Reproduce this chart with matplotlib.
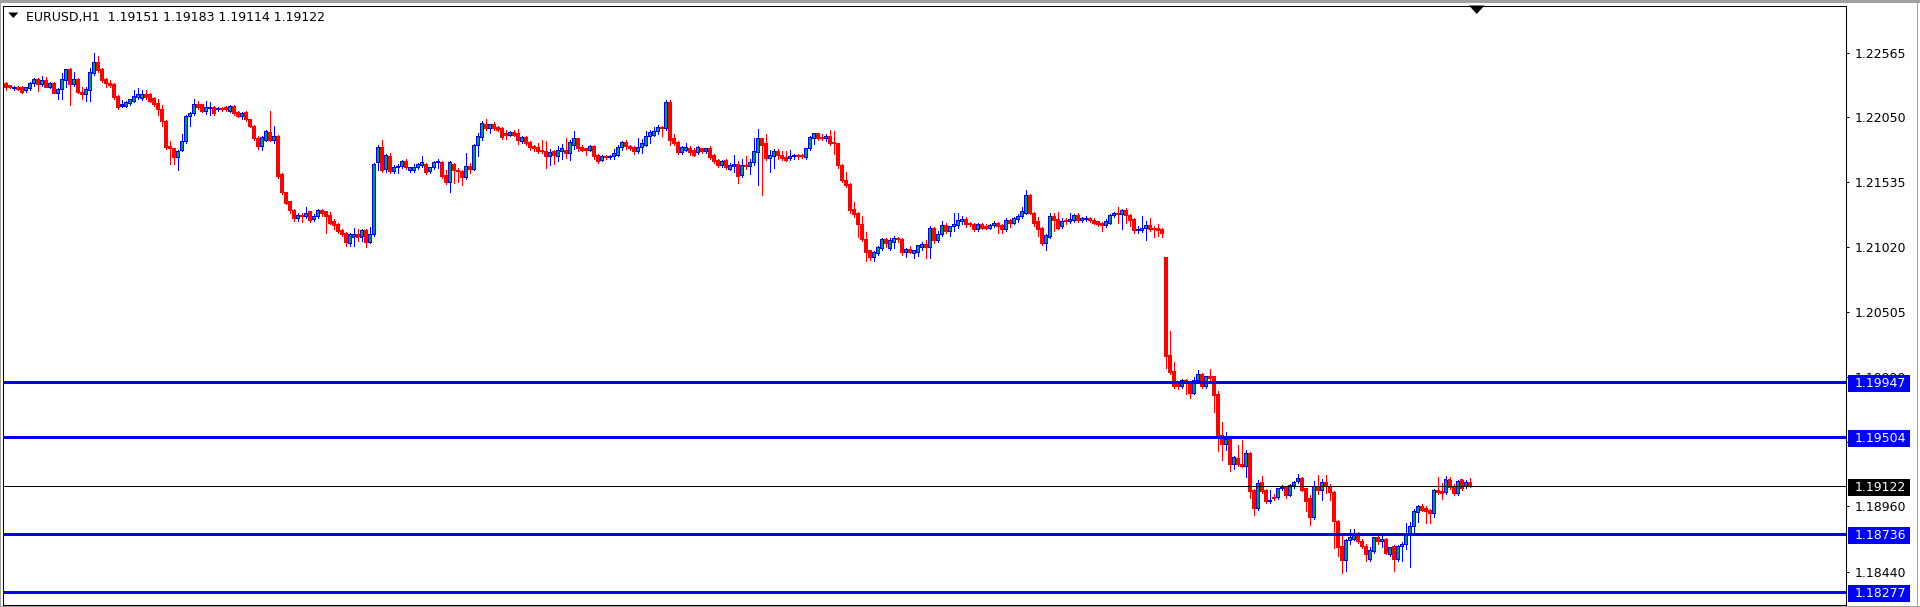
import numpy as np
import matplotlib
matplotlib.use("Agg")
import matplotlib.pyplot as plt
from matplotlib.patches import Rectangle, Polygon
import matplotlib.transforms as mtransforms

# EURUSD H1 candles, oldest first
opens = [
    1.2232, 1.2230, 1.2228, 1.2229, 1.2229, 1.2226, 1.2228, 1.2232, 1.2235, 1.2231,
    1.2234, 1.2229, 1.2232, 1.2224, 1.2227, 1.2234, 1.2243, 1.2231, 1.2235, 1.2225,
    1.2223, 1.2226, 1.2240, 1.2249, 1.2243, 1.2235, 1.2232, 1.2231, 1.2222, 1.2214,
    1.2214, 1.2216, 1.2218, 1.2221, 1.2220, 1.2223, 1.2223, 1.2220, 1.2216, 1.2211,
    1.2202, 1.2182, 1.2180, 1.2173, 1.2179, 1.2186, 1.2206, 1.2208, 1.2215, 1.2215,
    1.2210, 1.2212, 1.2213, 1.2211, 1.2212, 1.2213, 1.2210, 1.2214, 1.2209, 1.2206,
    1.2209, 1.2203, 1.2198, 1.2188, 1.2182, 1.2187, 1.2193, 1.2187, 1.2190, 1.2160,
    1.2145, 1.2138, 1.2131, 1.2125, 1.2127, 1.2126, 1.2130, 1.2124, 1.2126, 1.2131,
    1.2130, 1.2127, 1.2122, 1.2120, 1.2115, 1.2113, 1.2105, 1.2110, 1.2112, 1.2110,
    1.2115, 1.2106, 1.2112, 1.2169, 1.2181, 1.2164, 1.2174, 1.2162, 1.2165, 1.2166,
    1.2170, 1.2163, 1.2163, 1.2165, 1.2167, 1.2168, 1.2162, 1.2165, 1.2169, 1.2169,
    1.2159, 1.2153, 1.2168, 1.2163, 1.2162, 1.2157, 1.2166, 1.2164, 1.2183, 1.2189,
    1.2199, 1.2196, 1.2199, 1.2197, 1.2196, 1.2192, 1.2191, 1.2193, 1.2192, 1.2186,
    1.2189, 1.2185, 1.2182, 1.2181, 1.2179, 1.2178, 1.2174, 1.2178, 1.2174, 1.2178,
    1.2179, 1.2176, 1.2183, 1.2188, 1.2181, 1.2180, 1.2179, 1.2182, 1.2175, 1.2171,
    1.2174, 1.2173, 1.2174, 1.2175, 1.2181, 1.2185, 1.2182, 1.2181, 1.2178, 1.2181,
    1.2183, 1.2190, 1.2191, 1.2194, 1.2197, 1.2196, 1.2217, 1.2188, 1.2185, 1.2177,
    1.2179, 1.2180, 1.2179, 1.2177, 1.2180, 1.2178, 1.2180, 1.2175, 1.2171, 1.2167,
    1.2171, 1.2164, 1.2166, 1.2168, 1.2159, 1.2167, 1.2166, 1.2169, 1.2177, 1.2188,
    1.2184, 1.2172, 1.2174, 1.2178, 1.2175, 1.2173, 1.2172, 1.2174, 1.2175, 1.2175,
    1.2173, 1.2180, 1.2188, 1.2192, 1.2189, 1.2188, 1.2190, 1.2185, 1.2184, 1.2167,
    1.2155, 1.2152, 1.2132, 1.2129, 1.2120, 1.2108, 1.2099, 1.2094, 1.2097, 1.2101,
    1.2108, 1.2101, 1.2106, 1.2109, 1.2108, 1.2098, 1.2100, 1.2097, 1.2098, 1.2102,
    1.2104, 1.2102, 1.2117, 1.2107, 1.2112, 1.2119, 1.2114, 1.2118, 1.2119, 1.2122,
    1.2124, 1.2121, 1.2120, 1.2116, 1.2120, 1.2118, 1.2117, 1.2119, 1.2121, 1.2119,
    1.2116, 1.2123, 1.2121, 1.2124, 1.2126, 1.2129, 1.2143, 1.2129, 1.2122, 1.2117,
    1.2105, 1.2110, 1.2126, 1.2124, 1.2118, 1.2123, 1.2122, 1.2123, 1.2127, 1.2123,
    1.2124, 1.2125, 1.2123, 1.2122, 1.2121, 1.2119, 1.2121, 1.2127, 1.2129, 1.2128,
    1.2131, 1.2127, 1.2124, 1.2115, 1.2115, 1.2117, 1.2119, 1.2117, 1.2117, 1.2116,
    1.2094, 1.2016, 1.2003, 1.1993, 1.1991, 1.1996, 1.1994, 1.1986, 1.1996, 1.2001,
    1.1991, 1.1999, 1.1999, 1.1985, 1.1952, 1.1945, 1.1949, 1.1929, 1.1934, 1.1929,
    1.1928, 1.1938, 1.1909, 1.1894, 1.1915, 1.1909, 1.1900, 1.1903, 1.1903, 1.1910,
    1.1911, 1.1905, 1.1913, 1.1916, 1.1918, 1.1910, 1.1902, 1.1887, 1.1912, 1.1909,
    1.1915, 1.1912, 1.1907, 1.1884, 1.1864, 1.1853, 1.1869, 1.1870, 1.1874, 1.1868,
    1.1864, 1.1854, 1.1860, 1.1871, 1.1868, 1.1870, 1.1858, 1.1864, 1.1854, 1.1864,
    1.1866, 1.1874, 1.1880, 1.1891, 1.1896, 1.1894, 1.1893, 1.1890, 1.1909, 1.1908,
    1.1907, 1.1917, 1.1912, 1.1906, 1.1917, 1.1912, 1.19151,
]
highs = [
    1.2233, 1.2231, 1.2230, 1.2230, 1.2230, 1.2229, 1.2233, 1.2236, 1.2236, 1.2238,
    1.2237, 1.2233, 1.2233, 1.2228, 1.2240, 1.2243, 1.2244, 1.2241, 1.2236, 1.2229,
    1.2229, 1.2244, 1.2256, 1.2254, 1.2244, 1.2236, 1.2235, 1.2232, 1.2223, 1.2219,
    1.2218, 1.2220, 1.2227, 1.2228, 1.2227, 1.2227, 1.2224, 1.2221, 1.2220, 1.2215,
    1.2203, 1.2186, 1.2181, 1.2179, 1.2192, 1.2207, 1.2209, 1.2220, 1.2218, 1.2216,
    1.2218, 1.2217, 1.2214, 1.2213, 1.2213, 1.2214, 1.2215, 1.2215, 1.2210, 1.2209,
    1.2210, 1.2204, 1.2199, 1.2190, 1.2190, 1.2195, 1.2210, 1.2198, 1.2191, 1.2161,
    1.2146, 1.2139, 1.2132, 1.2129, 1.2129, 1.2134, 1.2131, 1.2128, 1.2132, 1.2132,
    1.2131, 1.2130, 1.2124, 1.2121, 1.2116, 1.2114, 1.2113, 1.2117, 1.2116, 1.2116,
    1.2116, 1.2118, 1.2169, 1.2183, 1.2187, 1.2176, 1.2177, 1.2167, 1.2168, 1.2171,
    1.2172, 1.2166, 1.2168, 1.2169, 1.2174, 1.2169, 1.2166, 1.2170, 1.2172, 1.2170,
    1.2163, 1.2170, 1.2169, 1.2165, 1.2163, 1.2177, 1.2169, 1.2184, 1.2193, 1.2202,
    1.2204, 1.2200, 1.2201, 1.2198, 1.2197, 1.2195, 1.2194, 1.2195, 1.2196, 1.2190,
    1.2190, 1.2186, 1.2183, 1.2185, 1.2187, 1.2186, 1.2180, 1.2179, 1.2182, 1.2184,
    1.2189, 1.2187, 1.2194, 1.2189, 1.2183, 1.2181, 1.2183, 1.2183, 1.2176, 1.2175,
    1.2175, 1.2175, 1.2180, 1.2183, 1.2186, 1.2187, 1.2183, 1.2182, 1.2189, 1.2188,
    1.2194, 1.2195, 1.2197, 1.2199, 1.2198, 1.2219, 1.2219, 1.2192, 1.2186, 1.2182,
    1.2185, 1.2182, 1.2181, 1.2182, 1.2181, 1.2180, 1.2182, 1.2176, 1.2172, 1.2171,
    1.2172, 1.2169, 1.2175, 1.2170, 1.2172, 1.2174, 1.2172, 1.2189, 1.2196, 1.2189,
    1.2192, 1.2179, 1.2180, 1.2180, 1.2178, 1.2178, 1.2179, 1.2176, 1.2176, 1.2176,
    1.2181, 1.2190, 1.2193, 1.2193, 1.2192, 1.2192, 1.2195, 1.2194, 1.2185, 1.2168,
    1.2162, 1.2153, 1.2138, 1.2130, 1.2127, 1.2114, 1.2100, 1.2099, 1.2103, 1.2109,
    1.2109, 1.2109, 1.2111, 1.2110, 1.2109, 1.2101, 1.2103, 1.2100, 1.2104, 1.2106,
    1.2108, 1.2119, 1.2118, 1.2115, 1.2123, 1.2121, 1.2119, 1.2129, 1.2129, 1.2127,
    1.2126, 1.2122, 1.2121, 1.2121, 1.2121, 1.2120, 1.2120, 1.2123, 1.2122, 1.2120,
    1.2125, 1.2124, 1.2126, 1.2128, 1.2134, 1.2147, 1.2144, 1.2130, 1.2126, 1.2118,
    1.2112, 1.2129, 1.2129, 1.2130, 1.2125, 1.2125, 1.2129, 1.2128, 1.2129, 1.2126,
    1.2127, 1.2126, 1.2125, 1.2123, 1.2122, 1.2124, 1.2128, 1.2130, 1.2134, 1.2132,
    1.2133, 1.2128, 1.2125, 1.2119, 1.2127, 1.2123, 1.2125, 1.2119, 1.2120, 1.2117,
    1.2094, 1.2035, 1.2011, 1.1995, 1.1997, 1.1997, 1.1995, 1.1999, 1.2004, 1.2002,
    1.2000, 1.2005, 1.2000, 1.1988, 1.1963, 1.1955, 1.1950, 1.1936, 1.1945, 1.1949,
    1.1941, 1.1939, 1.1910, 1.1917, 1.1920, 1.1910, 1.1909, 1.1906, 1.1911, 1.1913,
    1.1912, 1.1914, 1.1916, 1.1922, 1.1919, 1.1911, 1.1905, 1.1916, 1.1921, 1.1918,
    1.1921, 1.1914, 1.1908, 1.1885, 1.1874, 1.1870, 1.1878, 1.1878, 1.1876, 1.1870,
    1.1866, 1.1864, 1.1872, 1.1874, 1.1874, 1.1871, 1.1864, 1.1865, 1.1865, 1.1868,
    1.1883, 1.1884, 1.1894, 1.1897, 1.1898, 1.1896, 1.1894, 1.1910, 1.1919, 1.1915,
    1.1920, 1.1919, 1.1914, 1.1917, 1.1918, 1.1917, 1.19183,
]
lows = [
    1.2227, 1.2228, 1.2227, 1.2227, 1.2224, 1.2225, 1.2227, 1.2230, 1.2226, 1.2230,
    1.2229, 1.2228, 1.2224, 1.2220, 1.2220, 1.2229, 1.2215, 1.2230, 1.2224, 1.2220,
    1.2218, 1.2218, 1.2239, 1.2241, 1.2233, 1.2229, 1.2229, 1.2220, 1.2212, 1.2213,
    1.2213, 1.2215, 1.2217, 1.2220, 1.2219, 1.2220, 1.2217, 1.2214, 1.2207, 1.2198,
    1.2180, 1.2168, 1.2168, 1.2163, 1.2178, 1.2185, 1.2198, 1.2207, 1.2212, 1.2209,
    1.2208, 1.2207, 1.2207, 1.2210, 1.2210, 1.2210, 1.2209, 1.2207, 1.2205, 1.2204,
    1.2202, 1.2197, 1.2187, 1.2180, 1.2179, 1.2186, 1.2186, 1.2185, 1.2157, 1.2144,
    1.2136, 1.2129, 1.2123, 1.2123, 1.2122, 1.2125, 1.2122, 1.2123, 1.2125, 1.2127,
    1.2113, 1.2120, 1.2116, 1.2113, 1.2111, 1.2103, 1.2103, 1.2103, 1.2107, 1.2107,
    1.2102, 1.2105, 1.2111, 1.2163, 1.2162, 1.2162, 1.2161, 1.2161, 1.2161, 1.2165,
    1.2164, 1.2162, 1.2162, 1.2164, 1.2166, 1.2160, 1.2161, 1.2164, 1.2165, 1.2157,
    1.2152, 1.2146, 1.2153, 1.2154, 1.2151, 1.2156, 1.2161, 1.2163, 1.2174, 1.2187,
    1.2195, 1.2193, 1.2195, 1.2194, 1.2188, 1.2188, 1.2190, 1.2190, 1.2184, 1.2185,
    1.2183, 1.2179, 1.2178, 1.2177, 1.2177, 1.2165, 1.2167, 1.2168, 1.2170, 1.2172,
    1.2173, 1.2171, 1.2180, 1.2178, 1.2178, 1.2175, 1.2178, 1.2172, 1.2169, 1.2170,
    1.2172, 1.2172, 1.2172, 1.2174, 1.2179, 1.2180, 1.2179, 1.2176, 1.2177, 1.2177,
    1.2182, 1.2185, 1.2190, 1.2192, 1.2190, 1.2195, 1.2183, 1.2183, 1.2176, 1.2176,
    1.2178, 1.2175, 1.2174, 1.2176, 1.2177, 1.2177, 1.2172, 1.2169, 1.2166, 1.2166,
    1.2164, 1.2163, 1.2162, 1.2153, 1.2158, 1.2164, 1.2160, 1.2167, 1.2151, 1.2143,
    1.2171, 1.2162, 1.2165, 1.2172, 1.2171, 1.2170, 1.2171, 1.2172, 1.2172, 1.2173,
    1.2172, 1.2179, 1.2184, 1.2187, 1.2187, 1.2186, 1.2183, 1.2176, 1.2165, 1.2154,
    1.2150, 1.2129, 1.2126, 1.2110, 1.2107, 1.2091, 1.2092, 1.2091, 1.2096, 1.2100,
    1.2102, 1.2100, 1.2101, 1.2106, 1.2096, 1.2094, 1.2097, 1.2093, 1.2095, 1.2100,
    1.2093, 1.2093, 1.2105, 1.2106, 1.2111, 1.2113, 1.2111, 1.2115, 1.2117, 1.2120,
    1.2118, 1.2119, 1.2115, 1.2115, 1.2116, 1.2116, 1.2116, 1.2118, 1.2113, 1.2113,
    1.2115, 1.2118, 1.2120, 1.2122, 1.2125, 1.2128, 1.2128, 1.2119, 1.2111, 1.2104,
    1.2100, 1.2109, 1.2115, 1.2116, 1.2117, 1.2120, 1.2121, 1.2122, 1.2122, 1.2122,
    1.2123, 1.2122, 1.2120, 1.2119, 1.2115, 1.2118, 1.2120, 1.2126, 1.2121, 1.2116,
    1.2121, 1.2119, 1.2113, 1.2113, 1.2114, 1.2108, 1.2115, 1.2110, 1.2111, 1.2110,
    1.2006, 1.2001, 1.1990, 1.1989, 1.1990, 1.1985, 1.1982, 1.1985, 1.1995, 1.1990,
    1.1990, 1.1994, 1.1971, 1.1940, 1.1933, 1.1941, 1.1924, 1.1926, 1.1928, 1.1927,
    1.1919, 1.1903, 1.1889, 1.1893, 1.1907, 1.1899, 1.1899, 1.1901, 1.1902, 1.1909,
    1.1903, 1.1904, 1.1911, 1.1915, 1.1908, 1.1892, 1.1881, 1.1886, 1.1906, 1.1901,
    1.1907, 1.1901, 1.1863, 1.1857, 1.1843, 1.1845, 1.1866, 1.1869, 1.1867, 1.1863,
    1.1853, 1.1853, 1.1859, 1.1866, 1.1864, 1.1858, 1.1857, 1.1845, 1.1853, 1.1853,
    1.1862, 1.1848, 1.1876, 1.1884, 1.1892, 1.1883, 1.1883, 1.1888, 1.1906, 1.1902,
    1.1906, 1.1910, 1.1905, 1.1905, 1.1909, 1.1911, 1.19114,
]
closes = [
    1.2229, 1.2229, 1.2229, 1.2227, 1.2225, 1.2229, 1.2232, 1.2235, 1.2231, 1.2234,
    1.2229, 1.2232, 1.2224, 1.2227, 1.2235, 1.2243, 1.2231, 1.2235, 1.2225, 1.2223,
    1.2227, 1.2241, 1.2249, 1.2242, 1.2234, 1.2232, 1.2230, 1.2221, 1.2213, 1.2215,
    1.2217, 1.2219, 1.2222, 1.2223, 1.2223, 1.2221, 1.2218, 1.2215, 1.2211, 1.2202,
    1.2181, 1.2180, 1.2173, 1.2178, 1.2186, 1.2206, 1.2208, 1.2215, 1.2213, 1.2210,
    1.2213, 1.2213, 1.2208, 1.2212, 1.2211, 1.2211, 1.2214, 1.2208, 1.2206, 1.2208,
    1.2203, 1.2198, 1.2188, 1.2182, 1.2189, 1.2194, 1.2187, 1.2190, 1.2158, 1.2145,
    1.2137, 1.2131, 1.2125, 1.2127, 1.2126, 1.2129, 1.2123, 1.2126, 1.2131, 1.2129,
    1.2126, 1.2121, 1.2119, 1.2114, 1.2112, 1.2106, 1.2112, 1.2112, 1.2110, 1.2115,
    1.2106, 1.2112, 1.2168, 1.2181, 1.2163, 1.2175, 1.2162, 1.2165, 1.2166, 1.2170,
    1.2165, 1.2165, 1.2165, 1.2168, 1.2169, 1.2161, 1.2165, 1.2169, 1.2170, 1.2158,
    1.2153, 1.2169, 1.2163, 1.2162, 1.2157, 1.2166, 1.2164, 1.2183, 1.2190, 1.2200,
    1.2196, 1.2199, 1.2196, 1.2195, 1.2189, 1.2191, 1.2193, 1.2191, 1.2187, 1.2189,
    1.2184, 1.2181, 1.2180, 1.2178, 1.2178, 1.2174, 1.2177, 1.2175, 1.2179, 1.2180,
    1.2176, 1.2185, 1.2188, 1.2180, 1.2179, 1.2179, 1.2182, 1.2174, 1.2170, 1.2174,
    1.2173, 1.2174, 1.2176, 1.2181, 1.2185, 1.2182, 1.2180, 1.2178, 1.2181, 1.2184,
    1.2190, 1.2193, 1.2194, 1.2197, 1.2196, 1.2217, 1.2187, 1.2184, 1.2177, 1.2181,
    1.2181, 1.2177, 1.2175, 1.2181, 1.2178, 1.2180, 1.2173, 1.2170, 1.2167, 1.2170,
    1.2165, 1.2167, 1.2168, 1.2158, 1.2167, 1.2166, 1.2169, 1.2178, 1.2188, 1.2183,
    1.2172, 1.2175, 1.2178, 1.2175, 1.2172, 1.2171, 1.2174, 1.2175, 1.2174, 1.2174,
    1.2180, 1.2189, 1.2192, 1.2188, 1.2188, 1.2190, 1.2184, 1.2184, 1.2167, 1.2155,
    1.2151, 1.2131, 1.2128, 1.2120, 1.2108, 1.2098, 1.2094, 1.2098, 1.2102, 1.2108,
    1.2105, 1.2107, 1.2109, 1.2108, 1.2098, 1.2100, 1.2098, 1.2099, 1.2103, 1.2104,
    1.2102, 1.2117, 1.2107, 1.2112, 1.2119, 1.2114, 1.2118, 1.2120, 1.2123, 1.2124,
    1.2120, 1.2120, 1.2116, 1.2120, 1.2117, 1.2117, 1.2119, 1.2121, 1.2118, 1.2116,
    1.2123, 1.2121, 1.2125, 1.2126, 1.2130, 1.2143, 1.2129, 1.2121, 1.2116, 1.2105,
    1.2111, 1.2126, 1.2123, 1.2117, 1.2122, 1.2122, 1.2124, 1.2127, 1.2123, 1.2125,
    1.2125, 1.2123, 1.2121, 1.2120, 1.2119, 1.2122, 1.2127, 1.2129, 1.2128, 1.2131,
    1.2127, 1.2123, 1.2115, 1.2116, 1.2117, 1.2119, 1.2116, 1.2116, 1.2115, 1.2113,
    1.2015, 1.2002, 1.1991, 1.1991, 1.1996, 1.1994, 1.1986, 1.1996, 1.2001, 1.1991,
    1.1999, 1.1998, 1.1984, 1.1952, 1.1945, 1.1949, 1.1929, 1.1935, 1.1929, 1.1928,
    1.1938, 1.1908, 1.1894, 1.1914, 1.1908, 1.1900, 1.1901, 1.1902, 1.1910, 1.1911,
    1.1905, 1.1913, 1.1915, 1.1918, 1.1909, 1.1900, 1.1887, 1.1912, 1.1909, 1.1915,
    1.1912, 1.1907, 1.1884, 1.1863, 1.1853, 1.1869, 1.1871, 1.1874, 1.1868, 1.1864,
    1.1858, 1.1861, 1.1871, 1.1868, 1.1870, 1.1859, 1.1863, 1.1854, 1.1864, 1.1866,
    1.1874, 1.1880, 1.1892, 1.1896, 1.1893, 1.1892, 1.1890, 1.1909, 1.1907, 1.1906,
    1.1917, 1.1911, 1.1906, 1.1916, 1.1910, 1.1915, 1.19122,
]

# horizontal levels drawn on the chart
level_lines = [1.19947, 1.19504, 1.18736, 1.18277]
bid_price = 1.19122
price_ticks = [1.22565, 1.22050, 1.21535, 1.21020, 1.20505, 1.19990, 1.19475, 1.18960, 1.18440]
# 1.19475 sits fully under the 1.19504 label box, so its text is left blank
tick_labels = ["1.22565", "1.22050", "1.21535", "1.21020", "1.20505", "1.19990", "", "1.18960", "1.18440"]
header = "EURUSD,H1  1.19151 1.19183 1.19114 1.19122"

W, H = 1920, 607
fig = plt.figure(figsize=(W / 100, H / 100), dpi=100)
fig.patch.set_facecolor("white")


def fx(px):
    return px / W


def fy(py):
    return 1 - py / H


ax = fig.add_axes([fx(3), fy(604.5), fx(1846) - fx(3), fy(5.5) - fy(604.5)])
ax.set_xlim(-0.675, 460.075)
ax.set_ylim(1.18181, 1.22939)
y_lo, y_hi = ax.get_ylim()
per_px = (y_hi - y_lo) / 599.0   # price per pixel

o = np.array(opens)
h = np.array(highs)
l = np.array(lows)
c = np.array(closes)
x = np.arange(len(c))
up = c > o
dn = ~up
body_lo = np.minimum(o, c)
body_h = np.maximum(np.abs(c - o), per_px)

# wicks
ax.vlines(x[up], l[up], h[up], color="#0000ff", lw=0.72, antialiased=False, zorder=2)
ax.vlines(x[dn], l[dn], h[dn], color="#ff0000", lw=0.72, antialiased=False, zorder=2)
# bodies: 3 px wide, bull ones blue outlined with a green core
bars_up = ax.bar(x[up], body_h[up], bottom=body_lo[up], width=0.75, color="#0000ff",
                 linewidth=0, antialiased=False, zorder=3)
bars_dn = ax.bar(x[dn], body_h[dn], bottom=body_lo[dn], width=0.75, color="#ff0000",
                 linewidth=0, antialiased=False, zorder=3)
core = up & (body_h > 2.5 * per_px)
bars_core = ax.bar(x[core], body_h[core] - 2 * per_px, bottom=body_lo[core] + per_px,
                   width=0.25, color="#00a040", linewidth=0, antialiased=False, zorder=3.5)
for group in (bars_up, bars_dn, bars_core):
    for p in group:
        p.set_snap(False)

# level lines and bid line
for lv in level_lines:
    ax.axhline(lv, color="#0000ff", lw=1.44, antialiased=False, snap=False, zorder=4)
ax.axhline(bid_price, color="black", lw=0.72, antialiased=False, zorder=4)

# right price scale
ax.set_xticks([])
ax.yaxis.tick_right()
ax.set_yticks(price_ticks)
ax.set_yticklabels(tick_labels)
ax.tick_params(axis="y", direction="out", length=2.2, width=0.75, pad=3.8,
               labelsize=9, colors="black")
for s in ax.spines.values():
    s.set_linewidth(0.75)
    s.set_color("black")

# price labels for the lines
trans = mtransforms.blended_transform_factory(fig.transFigure, ax.transData)
for lv, col in [(v, "#0000ff") for v in level_lines] + [(bid_price, "black")]:
    ax.add_patch(Rectangle((fx(1847.5), lv - 9.5 * per_px), fx(1910) - fx(1847.5),
                           17 * per_px, transform=trans, facecolor=col,
                           edgecolor="none", clip_on=False, zorder=10))
    ax.text(fx(1854.3), lv - 1.0 * per_px, f"{lv:.5f}", transform=trans, color="white",
            fontsize=9, va="center", ha="left", clip_on=False, zorder=11)

# header line
fig.text(fx(26.5), fy(21.5), header, fontsize=9, va="baseline", ha="left", color="black")
fig.add_artist(Polygon([[fx(8.3), fy(12.5)], [fx(18.3), fy(12.5)], [fx(13.3), fy(18)]],
                       closed=True, transform=fig.transFigure, facecolor="black",
                       edgecolor="none"))
# chart shift marker
fig.add_artist(Polygon([[fx(1469), fy(5.5)], [fx(1484.5), fy(5.5)], [fx(1476.75), fy(14)]],
                       closed=True, transform=fig.transFigure, facecolor="black",
                       edgecolor="none"))

# window border
for rect in [(0, fy(2.5), 1, fy(0) - fy(2.5)),
             (0, 0, fx(1.2), 1),
             (fx(1917), 0, fx(1.3), 1),
             (0, 0, 1, 1 - fy(1.2))]:
    fig.add_artist(Rectangle(rect[:2], rect[2], rect[3], transform=fig.transFigure,
                             facecolor="#a0a0a0", edgecolor="none"))

fig.savefig("out.png", dpi=100)
